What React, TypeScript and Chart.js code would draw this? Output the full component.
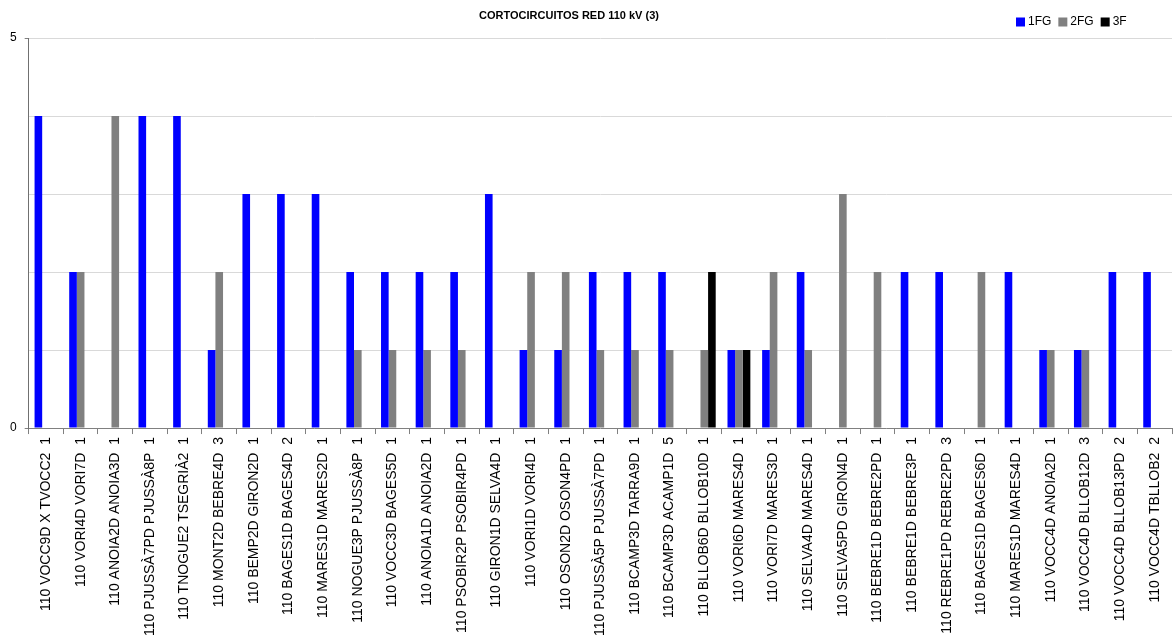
import React, { useEffect, useRef } from "react";
import { Chart, registerables } from "chart.js";

Chart.register(...registerables);

const TITLE = "CORTOCIRCUITOS RED 110 kV (3)";

const categories: string[] = [
  "110 VOCC9D X TVOCC2  1",
  "110 VORI4D VORI7D  1",
  "110 ANOIA2D ANOIA3D  1",
  "110 PJUSSÀ7PD PJUSSÀ8P  1",
  "110 TNOGUE2 TSEGRIÀ2  1",
  "110 MONT2D BEBRE4D  3",
  "110 BEMP2D GIRON2D  1",
  "110 BAGES1D BAGES4D  2",
  "110 MARES1D MARES2D  1",
  "110 NOGUE3P PJUSSÀ8P  1",
  "110 VOCC3D BAGES5D  1",
  "110 ANOIA1D ANOIA2D  1",
  "110 PSOBIR2P PSOBIR4PD  1",
  "110 GIRON1D SELVA4D  1",
  "110 VORI1D VORI4D  1",
  "110 OSON2D OSON4PD  1",
  "110 PJUSSÀ5P PJUSSÀ7PD  1",
  "110 BCAMP3D TARRA9D  1",
  "110 BCAMP3D ACAMP1D  5",
  "110 BLLOB6D BLLOB10D  1",
  "110 VORI6D MARES4D  1",
  "110 VORI7D MARES3D  1",
  "110 SELVA4D MARES4D  1",
  "110 SELVA5PD GIRON4D  1",
  "110 BEBRE1D BEBRE2PD  1",
  "110 BEBRE1D BEBRE3P  1",
  "110 REBRE1PD REBRE2PD  3",
  "110 BAGES1D BAGES6D  1",
  "110 MARES1D MARES4D  1",
  "110 VOCC4D ANOIA2D  1",
  "110 VOCC4D BLLOB12D  3",
  "110 VOCC4D BLLOB13PD  2",
  "110 VOCC4D TBLLOB2  2",
];

const series1FG: number[] = [4, 2, 0, 4, 4, 1, 3, 3, 3, 2, 2, 2, 2, 3, 1, 1, 2, 2, 2, 0, 1, 1, 2, 0, 0, 2, 2, 0, 2, 1, 1, 2, 2];
const series2FG: number[] = [0, 2, 4, 0, 0, 2, 0, 0, 0, 1, 1, 1, 1, 0, 2, 2, 1, 1, 1, 1, 1, 2, 1, 3, 2, 0, 0, 2, 0, 1, 1, 0, 0];
const series3F: number[] = [0, 0, 0, 0, 0, 0, 0, 0, 0, 0, 0, 0, 0, 0, 0, 0, 0, 0, 0, 2, 1, 0, 0, 0, 0, 0, 0, 0, 0, 0, 0, 0, 0];

const seriesNames = ["1FG", "2FG", "3F"];
const seriesColors = ["#0000ff", "#808080", "#000000"];
const yTickLabels = [0, 5];

const FONT = "'Liberation Sans', Arial, sans-serif";

const headerPlugin = {
  id: "header",
  afterDraw(chart: any) {
    const ctx = chart.ctx;
    ctx.save();
    ctx.fillStyle = "#000";
    ctx.font = `bold 11px ${FONT}`;
    ctx.textAlign = "center";
    ctx.textBaseline = "middle";
    ctx.fillText(TITLE, 569, 16);
    // legend
    ctx.font = `12px ${FONT}`;
    ctx.textAlign = "left";
    let x = 1016;
    const y = 22;
    chart.data.datasets.forEach((ds: any) => {
      ctx.fillStyle = ds.backgroundColor;
      ctx.fillRect(x, y - 4.5, 9, 9);
      ctx.fillStyle = "#000";
      ctx.fillText(ds.label, x + 12, y);
      x += 12 + ctx.measureText(ds.label).width + 7;
    });
    ctx.restore();
  },
};

export default function App() {
  const ref = useRef<HTMLCanvasElement>(null);
  useEffect(() => {
    if (!ref.current) return;
    const chart = new Chart(ref.current, {
      type: "bar",
      data: {
        labels: categories,
        datasets: [series1FG, series2FG, series3F].map((d, i) => ({
          label: seriesNames[i],
          data: d,
          backgroundColor: seriesColors[i],
          borderWidth: 0,
          categoryPercentage: 0.66,
          barPercentage: 1.0,
        })),
      },
      options: {
        responsive: false,
        animation: false,
        layout: { padding: { top: 38, left: 2, right: 4, bottom: 0 } },
        plugins: {
          legend: { display: false },
          title: { display: false },
          tooltip: { enabled: false },
        },
        scales: {
          x: {
            grid: {
              offset: true,
              drawOnChartArea: false,
              drawTicks: true,
              tickLength: 6,
              color: "#808080",
            },
            border: { display: true, color: "#808080", width: 1 },
            ticks: {
              autoSkip: false,
              maxRotation: 90,
              minRotation: 90,
              color: "#000",
              font: { family: FONT, size: 14 },
              padding: 3,
            },
          },
          y: {
            min: 0,
            max: 5,
            ticks: {
              stepSize: 1,
              color: "#000",
              font: { family: FONT, size: 12 },
              padding: 8,
              callback: (v: any) => (yTickLabels.includes(Number(v)) ? String(v) : ""),
            },
            grid: {
              color: (c: any) => (c.tick && c.tick.value === 0 ? "rgba(0,0,0,0)" : "#d9d9d9"),
              tickColor: (c: any) =>
                c.tick && yTickLabels.includes(c.tick.value) ? "#808080" : "rgba(0,0,0,0)",
              tickLength: 4,
            },
            border: { display: true, color: "#707070", width: 1 },
          },
        },
      },
      plugins: [headerPlugin],
    });
    return () => chart.destroy();
  }, []);
  return (
    <div style={{ position: "absolute", left: 0, top: 0, width: 1176, height: 639, background: "#fff" }}>
      <canvas ref={ref} width={1176} height={639} />
    </div>
  );
}
